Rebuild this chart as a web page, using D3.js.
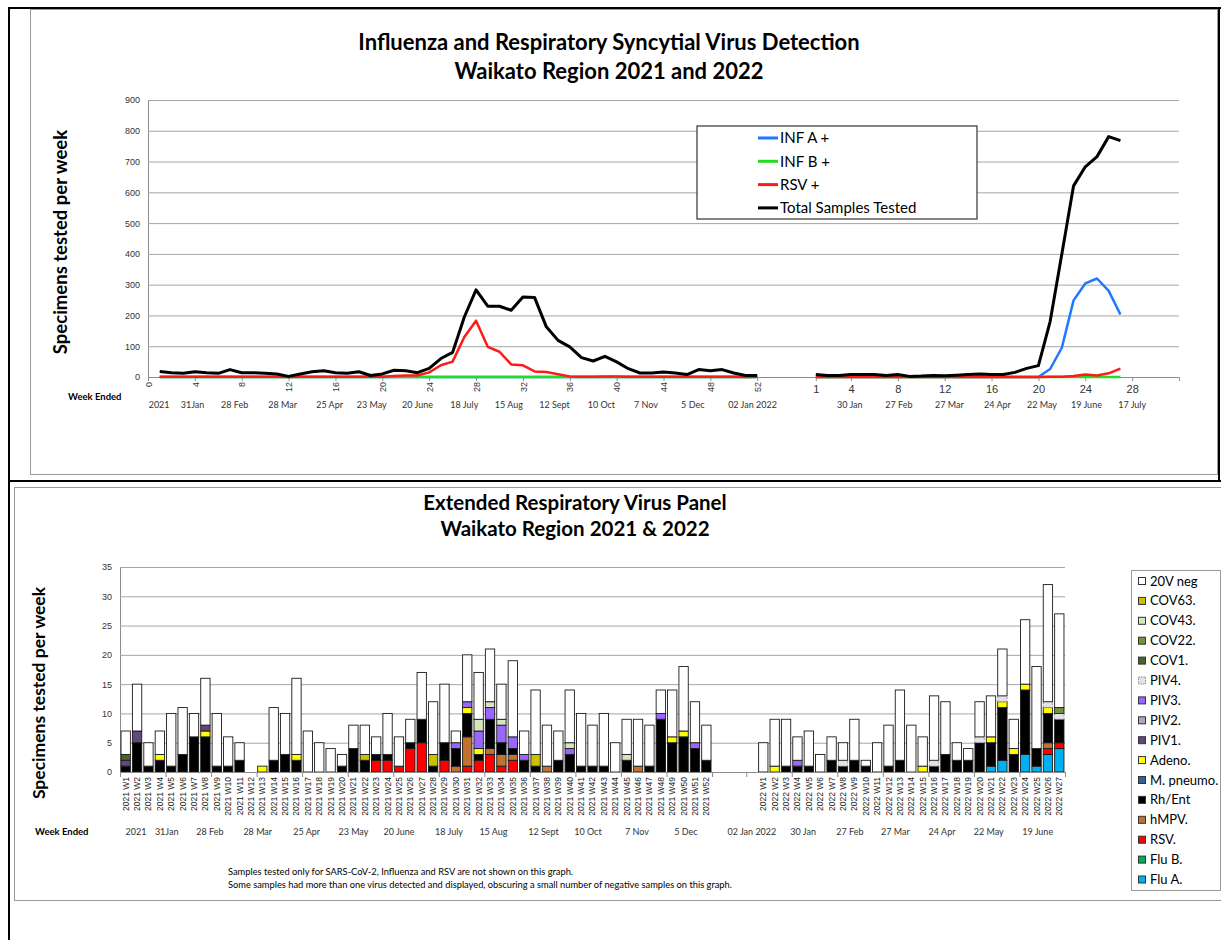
<!DOCTYPE html>
<html>
<head>
<meta charset="utf-8">
<script src="https://cdn.jsdelivr.net/npm/d3@7"></script>
<style>
  body { margin: 0; background: #fff; }
  svg { display: block; font-family: Lato, "Open Sans", sans-serif; }
</style>
</head>
<body>
<div id="root"></div>
<script>
// ---------- Top chart data (weekly counts) ----------
const weeks2021 = d3.range(1, 53);
const weeks2022 = d3.range(1, 28);

const total2021 = [18,14,12,17,14,12,24,14,14,12,10,2,10,17,20,14,12,17,5,10,22,20,14,28,60,80,195,283,230,230,217,260,258,163,119,98,63,52,67,49,27,13,13,16,13,8,24,20,24,13,5,5];
const rsv2021 = [1,1,1,1,1,1,1,1,1,1,1,0,1,1,1,1,1,1,1,1,3,5,5,15,38,50,130,183,98,82,41,38,18,16,9,2,1,1,2,2,1,1,1,1,1,1,1,1,1,1,0,1];
const infA2021 = [0,0,0,0,0,0,0,0,0,0,0,0,0,0,0,0,0,0,0,0,0,0,0,0,0,0,0,0,0,0,0,0,0,0,0,0,0,0,0,0,0,0,0,0,0,0,0,0,0,0,0,0];
const infB2021 = [0,0,0,0,0,0,0,0,0,0,0,0,0,0,0,0,0,0,0,0,0,0,0,0,0,0,0,0,0,0,0,0,0,0,0,0,0,0,0,0,0,0,0,0,0,0,0,0,0,0,0,0];

const total2022 = [8,5,5,8,8,8,5,8,2,3,5,4,6,8,10,8,8,15,28,37,180,400,621,683,716,781,768];
const infA2022 = [0,0,0,0,0,0,0,0,0,0,0,0,0,0,0,0,0,0,0,0,26,95,249,304,320,280,203];
const infB2022 = [0,0,0,0,0,0,0,0,0,0,0,0,0,0,0,0,0,0,0,0,0,0,0,0,0,0,0];
const rsv2022 = [0,0,0,0,0,0,0,0,0,0,0,0,0,0,0,0,0,0,0,0,1,1,3,8,5,12,27];

const topTicks2021 = [0,4,8,12,16,20,24,28,32,36,40,44,48,52];
const topTicks2022 = [1,4,8,12,16,20,24,28];
const lineNames = ["INF A +", "INF B +", "RSV +", "Total Samples Tested"];
const lineColors = ["#1f78ff", "#22dd22", "#ff1a1a", "#000000"];

// week-ended labels and where they sit on each axis (in week / category units)
const dateLabels = ["2021","31Jan","28 Feb","28 Mar","25 Apr","23 May","20 June","18 July","15 Aug","12 Sept","10 Oct","7 Nov","5 Dec","02 Jan 2022","30 Jan","27 Feb","27 Mar","24 Apr","22 May","19 June","17 July"];
const topDateSlots = [0.95,3.8,7.4,11.5,15.5,19.1,23,27,30.8,34.7,38.7,42.5,46.5,51.6,59.9,64.1,68.4,72.5,76.3,80.1,84];
const botDateSlots = [0.9,3.6,7.4,11.6,15.9,20,24,28.4,32.3,36.7,40.6,44.9,49.2,55,59.5,63.6,67.6,71.7,75.8,80.1];

// ---------- Bottom chart data (2021 W1..W52 then 2022 W1..W27) ----------
const panelWeeks = weeks2021.map(w => "2021 W" + w).concat(weeks2022.map(w => "2022 W" + w));

const fluA = [0,0,0,0,0,0,0,0,0,0,0,0,0,0,0,0,0,0,0,0,0,0,0,0,0,0,0,0,0,0,0,0,0,0,0,0,0,0,0,0,0,0,0,0,0,0,0,0,0,0,0,0,
  0,0,0,0,0,0,0,0,0,0,0,0,0,0,0,0,0,0,0,0,1,2,0,3,1,3,4];
const fluB = [0,0,0,0,0,0,0,0,0,0,0,0,0,0,0,0,0,0,0,0,0,0,0,0,0,0,0,0,0,0,0,0,0,0,0,0,0,0,0,0,0,0,0,0,0,0,0,0,0,0,0,0,
  0,0,0,0,0,0,0,0,0,0,0,0,0,0,0,0,0,0,0,0,0,0,0,0,0,0,0];
const rsv = [0,0,0,0,0,0,0,0,0,0,0,0,0,0,0,0,0,0,0,0,0,0,2,2,1,4,5,0,2,0,1,2,3,1,2,0,0,0,0,0,0,0,0,0,0,0,0,0,0,0,0,0,
  0,0,0,0,0,0,0,0,0,0,0,0,0,0,0,0,0,0,0,0,0,0,0,0,0,1,1];
const hmpv = [0,0,0,0,0,0,0,0,0,0,0,0,0,0,0,0,0,0,0,0,0,0,0,0,0,0,0,0,0,1,5,0,1,2,1,0,0,1,0,0,0,0,0,0,0,1,0,0,0,0,0,0,
  0,0,0,0,0,0,0,0,0,0,0,0,0,0,0,0,0,0,0,0,0,0,0,0,0,1,0];
const rhEnt = [1,5,1,2,1,3,6,6,1,1,2,0,0,2,3,2,0,0,0,1,4,2,1,1,0,1,4,1,3,3,4,1,5,2,1,2,1,0,2,3,1,1,1,0,2,0,1,9,5,6,4,2,
  0,0,1,1,1,0,2,1,2,1,0,1,2,0,0,1,3,2,2,5,4,9,3,11,3,5,4];
const mPneumo = [0,0,0,0,0,0,0,0,0,0,0,0,0,0,0,0,0,0,0,0,0,0,0,0,0,0,0,0,0,0,0,0,0,0,0,0,0,0,0,0,0,0,0,0,0,0,0,0,0,0,0,0,
  0,0,0,0,0,0,0,0,0,0,0,0,0,0,0,0,0,0,0,0,0,0,0,0,0,0,0];
const adeno = [0,0,0,1,0,0,0,1,0,0,0,0,1,0,0,1,0,0,0,0,0,0,0,0,0,0,0,0,0,0,1,1,0,0,0,0,0,0,0,0,0,0,0,0,0,0,0,0,1,1,0,0,
  0,1,0,0,0,0,0,0,0,0,0,0,0,0,1,0,0,0,0,0,1,1,1,1,0,1,0];
const piv1 = [1,2,0,0,0,0,0,1,0,0,0,0,0,0,0,0,0,0,0,0,0,0,0,0,0,0,0,0,0,0,0,0,0,0,0,0,0,0,0,0,0,0,0,0,0,0,0,0,0,0,0,0,
  0,0,0,0,0,0,0,0,0,0,0,0,0,0,0,0,0,0,0,0,0,0,0,0,0,0,0];
const piv2 = [0,0,0,0,0,0,0,0,0,0,0,0,0,0,0,0,0,0,0,0,0,0,0,0,0,0,0,0,0,0,0,0,0,0,0,0,0,0,0,0,0,0,0,0,0,0,0,0,0,0,0,0,
  0,0,0,0,0,0,0,0,0,0,0,0,0,0,0,0,0,0,0,0,0,0,0,0,0,0,0];
const piv3 = [0,0,0,0,0,0,0,0,0,0,0,0,0,0,0,0,0,0,0,0,0,0,0,0,0,0,0,0,0,1,1,3,2,3,2,1,0,0,0,1,0,0,0,0,0,0,0,1,0,0,1,0,
  0,0,0,1,0,0,0,0,0,0,0,0,0,0,0,0,0,0,0,0,0,0,0,0,0,0,0];
const piv4 = [0,0,0,0,0,0,0,0,0,0,0,0,0,0,0,0,0,0,0,0,0,0,0,0,0,0,0,0,0,0,0,0,0,0,0,0,0,0,0,0,0,0,0,0,0,0,0,0,0,0,0,0,
  0,0,0,0,0,0,0,1,0,0,0,0,0,0,0,1,0,0,0,1,0,1,0,0,0,1,1];
const cov1 = [1,0,0,0,0,0,0,0,0,0,0,0,0,0,0,0,0,0,0,0,0,0,0,0,0,0,0,0,0,0,0,0,0,0,0,0,0,0,0,0,0,0,0,0,0,0,0,0,0,0,0,0,
  0,0,0,0,0,0,0,0,0,0,0,0,0,0,0,0,0,0,0,0,0,0,0,0,0,0,0];
const cov22 = [0,0,0,0,0,0,0,0,0,0,0,0,0,0,0,0,0,0,0,0,0,0,0,0,0,0,0,0,0,0,0,0,0,0,0,0,0,0,0,0,0,0,0,0,0,0,0,0,0,0,0,0,
  0,0,0,0,0,0,0,0,0,0,0,0,0,0,0,0,0,0,0,0,0,0,0,0,0,0,1];
const cov43 = [0,0,0,0,0,0,0,0,0,0,0,0,0,0,0,0,0,0,0,0,0,0,0,0,0,0,0,0,0,0,0,2,1,1,0,0,0,0,0,1,0,0,0,0,1,0,0,0,0,0,0,0,
  0,0,0,0,0,0,0,0,0,0,0,0,0,0,0,0,0,0,0,0,0,0,0,0,0,0,0];
const cov63 = [0,0,0,0,0,0,0,0,0,0,0,0,0,0,0,0,0,0,0,0,0,1,0,0,0,0,0,2,0,0,0,0,0,0,0,0,2,0,0,0,0,0,0,0,0,0,0,0,0,0,0,0,
  0,0,0,0,0,0,0,0,0,0,0,0,0,0,0,0,0,0,0,0,0,0,0,0,0,0,0];
const neg20v = [4,8,4,4,9,8,4,8,9,5,3,0,0,9,7,13,7,5,4,2,4,5,3,7,5,4,8,9,10,2,8,8,9,6,13,4,11,7,5,9,9,7,9,5,6,8,7,4,8,11,7,6,
  5,8,8,4,6,3,4,3,7,1,5,7,12,8,5,11,9,3,2,6,7,8,5,11,14,20,16];

// stacking order, bottom to top
const panelNames = ["Flu A.","Flu B.","RSV.","hMPV.","Rh/Ent","M. pneumo.","Adeno.","PIV1.","PIV2.","PIV3.","PIV4.","COV1.","COV22.","COV43.","COV63.","20V neg"];
const panelSeries = [fluA, fluB, rsv, hmpv, rhEnt, mPneumo, adeno, piv1, piv2, piv3, piv4, cov1, cov22, cov43, cov63, neg20v];
const panelColors = ["#00b0f0","#00b050","#ff0000","#c0722e","#000000","#376092","#ffff00","#604a7b","#b3a2c7","#9966ff","#e6e0ec","#4f6228","#77933c","#d7e4bd","#c8c200","#ffffff"];

// ---------- Page ----------
const W = 1221, H = 940;
const svg = d3.select("#root").append("svg").attr("width", W).attr("height", H);

// Frames
svg.append("rect").attr("x", 30.5).attr("y", 9.5).attr("width", 1187).attr("height", 465)
  .attr("fill", "none").attr("stroke", "#9a9a9a");
svg.append("rect").attr("x", 14.5).attr("y", 487.5).attr("width", 1220).attr("height", 413)
  .attr("fill", "none").attr("stroke", "#9a9a9a");
const frame = svg.append("g").attr("stroke", "#000").attr("stroke-width", 2);
frame.append("line").attr("x1", 9).attr("x2", W).attr("y1", 8).attr("y2", 8);
frame.append("line").attr("x1", 9).attr("x2", 9).attr("y1", 7).attr("y2", H);
frame.append("line").attr("x1", 1219).attr("x2", 1219).attr("y1", 7).attr("y2", 481);
frame.append("line").attr("x1", 9).attr("x2", W).attr("y1", 481).attr("y2", 481);

// =============== Top chart ===============
const xTop = d3.scaleLinear().domain([0, 88]).range([148, 1179]);
const x2022 = d3.scaleLinear().domain([0, 32]).range([xTop(56), xTop(88)]);
const yTop = d3.scaleLinear().domain([0, 900]).range([377, 100]);
const topG = svg.append("g");

topG.append("text").attr("x", 609).attr("y", 50).attr("text-anchor", "middle")
  .style("font-size", "22px").style("font-weight", "bold").text("Influenza and Respiratory Syncytial Virus Detection");
topG.append("text").attr("x", 609).attr("y", 79).attr("text-anchor", "middle")
  .style("font-size", "22px").style("font-weight", "bold").text("Waikato Region 2021 and 2022");

// Y axis with gridlines
topG.append("g").attr("transform", `translate(${xTop(0)},0)`)
  .call(d3.axisLeft(yTop).tickValues(d3.range(0, 901, 100)).tickSize(-(xTop(88) - xTop(0))).tickPadding(8))
  .call(g => g.select(".domain").attr("stroke", "#8c8c8c"))
  .call(g => g.selectAll(".tick line").attr("stroke", "#a6a6a6"))
  .call(g => g.selectAll(".tick text").style("font-size", "9px").attr("fill", "#333"));

topG.append("text").attr("transform", `translate(67,242) rotate(-90)`).attr("text-anchor", "middle")
  .style("font-size", "18.5px").style("font-weight", "bold").text("Specimens tested per week");

// X axis 2021 (rotated labels)
topG.append("g").attr("transform", `translate(0,${yTop(0)})`)
  .call(d3.axisBottom(xTop).tickValues(topTicks2021).tickSize(4).tickFormat(d3.format("d")))
  .call(g => g.select(".domain").attr("stroke", "#8c8c8c"))
  .call(g => g.selectAll(".tick line").attr("stroke", "#8c8c8c"))
  .call(g => g.selectAll(".tick text").attr("transform", "rotate(-90)").attr("x", -5).attr("y", 0)
    .attr("dy", "0.35em").attr("text-anchor", "end").style("font-size", "9px").attr("fill", "#333"));

// X axis 2022 (horizontal labels)
topG.append("g").attr("transform", `translate(0,${yTop(0)})`)
  .call(d3.axisBottom(x2022).tickValues(topTicks2022).tickSize(4).tickPadding(4))
  .call(g => g.select(".domain").remove())
  .call(g => g.selectAll(".tick line").attr("stroke", "#8c8c8c"))
  .call(g => g.selectAll(".tick text").style("font-size", "11px").attr("fill", "#333"));

// Week ended row
topG.append("text").attr("x", 68).attr("y", 400).style("font-size", "9.5px").style("font-weight", "bold").text("Week Ended");
topG.append("g").selectAll("text").data(dateLabels).join("text")
  .attr("x", (d, i) => xTop(topDateSlots[i])).attr("y", 408).attr("text-anchor", "middle")
  .style("font-size", "9px").attr("fill", "#333").text(d => d);

// Lines
const topLines = [
  [infA2021, infA2022], [infB2021, infB2022], [rsv2021, rsv2022], [total2021, total2022]
];
const line2021 = d3.line().x((d, i) => xTop(weeks2021[i])).y(d => yTop(d));
const line2022 = d3.line().x((d, i) => x2022(weeks2022[i])).y(d => yTop(d));
topLines.forEach(([a, b], k) => {
  const sw = k === 3 ? 3 : 2.5;
  topG.append("path").attr("d", line2021(a)).attr("fill", "none").attr("stroke", lineColors[k]).attr("stroke-width", sw).attr("stroke-linejoin", "round");
  topG.append("path").attr("d", line2022(b)).attr("fill", "none").attr("stroke", lineColors[k]).attr("stroke-width", sw).attr("stroke-linejoin", "round");
});

// Legend
const topLegend = topG.append("g").attr("transform", "translate(697,126)");
topLegend.append("rect").attr("width", 280).attr("height", 93).attr("fill", "#fff").attr("stroke", "#333").attr("stroke-width", 1.2);
lineNames.forEach((name, i) => {
  const y = 12 + i * 23.3;
  topLegend.append("line").attr("x1", 61).attr("x2", 81).attr("y1", y).attr("y2", y)
    .attr("stroke", lineColors[i]).attr("stroke-width", 3);
  topLegend.append("text").attr("x", 83).attr("y", y).attr("dy", "0.35em").style("font-size", "15px").text(name);
});

// =============== Bottom chart ===============
const gapKeys = ["gap1", "gap2", "gap3", "gap4"];
const categories = panelWeeks.slice(0, 52).concat(gapKeys, panelWeeks.slice(52));
const xBot = d3.scaleBand().domain(categories).range([120, 1065]).paddingInner(0.18).paddingOuter(0.09);
const xBotIdx = d3.scaleLinear().domain([0, categories.length]).range([120, 1065]);
const yBot = d3.scaleLinear().domain([0, 35]).range([772, 567]);
const botG = svg.append("g");

botG.append("text").attr("x", 575).attr("y", 510).attr("text-anchor", "middle")
  .style("font-size", "20.5px").style("font-weight", "bold").text("Extended Respiratory Virus Panel");
botG.append("text").attr("x", 575).attr("y", 536).attr("text-anchor", "middle")
  .style("font-size", "20.5px").style("font-weight", "bold").text("Waikato Region 2021 & 2022");

botG.append("g").attr("transform", `translate(${xBotIdx(0)},0)`)
  .call(d3.axisLeft(yBot).tickValues(d3.range(0, 36, 5)).tickSize(-(1065 - 120)).tickPadding(8))
  .call(g => g.select(".domain").attr("stroke", "#8c8c8c"))
  .call(g => g.selectAll(".tick line").attr("stroke", "#a6a6a6"))
  .call(g => g.selectAll(".tick text").style("font-size", "9px").attr("fill", "#333"));

botG.append("text").attr("transform", `translate(45,693) rotate(-90)`).attr("text-anchor", "middle")
  .style("font-size", "17.5px").style("font-weight", "bold").text("Specimens tested per week");

// Stacked bars
const rows = categories.map(c => {
  const i = panelWeeks.indexOf(c);
  const r = { cat: c };
  panelNames.forEach((n, k) => { r[n] = i < 0 ? 0 : panelSeries[k][i]; });
  return r;
});
const stacked = d3.stack().keys(panelNames)(rows);
botG.append("g").selectAll("g").data(stacked).join("g")
  .attr("fill", (d, k) => panelColors[k])
  .attr("stroke", (d, k) => panelNames[k] === "PIV4." ? "#8a8a8a" : "#1a1a1a")
  .attr("stroke-dasharray", (d, k) => panelNames[k] === "PIV4." ? "2,1.5" : null)
  .attr("stroke-width", 0.9)
  .selectAll("rect").data(d => d.filter(s => s[1] > s[0])).join("rect")
  .attr("x", d => xBot(d.data.cat)).attr("width", xBot.bandwidth())
  .attr("y", d => yBot(d[1])).attr("height", d => yBot(d[0]) - yBot(d[1]));

// Category axis
botG.append("g").attr("transform", `translate(0,${yBot(0)})`)
  .call(d3.axisBottom(xBot).tickValues(panelWeeks).tickSize(0))
  .call(g => g.select(".domain").attr("stroke", "#8c8c8c"))
  .call(g => g.selectAll(".tick text").attr("transform", "rotate(-90)").attr("x", -5).attr("y", 0)
    .attr("dy", "0.35em").attr("text-anchor", "end").style("font-size", "8.5px").attr("fill", "#222"));
botG.append("g").attr("transform", `translate(0,${yBot(0)})`)
  .call(d3.axisBottom(xBotIdx).tickValues([0,4,8,12,16,20,24,28,32,36,40,44,48,52,55,59,63,67,71,75,79,83]).tickSize(5).tickFormat(""))
  .call(g => g.select(".domain").remove())
  .call(g => g.selectAll(".tick line").attr("stroke", "#8c8c8c"));

botG.append("text").attr("x", 35).attr("y", 835).style("font-size", "9.5px").style("font-weight", "bold").text("Week Ended");
botG.append("g").selectAll("text").data(dateLabels.slice(0, botDateSlots.length)).join("text")
  .attr("x", (d, i) => xBotIdx(botDateSlots[i] + 0.5)).attr("y", 835).attr("text-anchor", "middle")
  .style("font-size", "9px").attr("fill", "#333").text(d => d);

// Notes
botG.append("text").attr("x", 228).attr("y", 875).style("font-size", "9.3px")
  .text("Samples tested only for SARS-CoV-2, Influenza and RSV are not shown on this graph.");
botG.append("text").attr("x", 228).attr("y", 888).style("font-size", "9.3px")
  .text("Some samples had more than one virus detected and displayed, obscuring a small number of negative samples on this graph.");

// Legend (reverse of stacking order)
const botLegend = botG.append("g").attr("transform", "translate(1131,570)");
botLegend.append("rect").attr("x", 0.5).attr("y", 0.5).attr("width", 89).attr("height", 320)
  .attr("fill", "#fff").attr("stroke", "#9a9a9a");
const legendOrder = d3.range(panelNames.length).reverse();
legendOrder.forEach((k, j) => {
  const y = 11 + j * 19.9;
  botLegend.append("rect").attr("x", 7.5).attr("y", y - 3.5).attr("width", 7).attr("height", 7)
    .attr("fill", panelColors[k])
    .attr("stroke", panelNames[k] === "PIV4." ? "#8a8a8a" : "#333")
    .attr("stroke-dasharray", panelNames[k] === "PIV4." ? "1.5,1" : null);
  botLegend.append("text").attr("x", 19).attr("y", y).attr("dy", "0.35em").style("font-size", "13px").text(panelNames[k]);
});
</script>
</body>
</html>
